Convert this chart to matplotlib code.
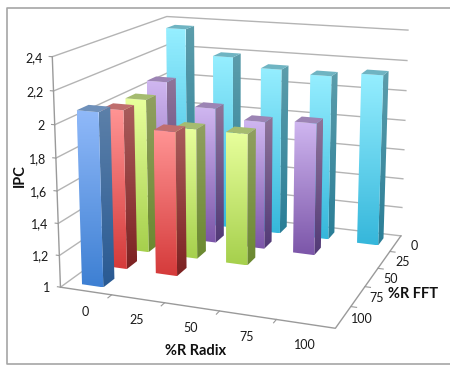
import numpy as np
import matplotlib
matplotlib.use("Agg")
import matplotlib.pyplot as plt
from matplotlib.colors import LinearSegmentedColormap
from matplotlib.patches import Polygon

plt.rcParams["font.family"] = ["Lato", "DejaVu Sans"]

radix_labels = ["0", "25", "50", "75", "100"]
fft_labels = ["0", "25", "50", "75", "100"]
ipc_labels = ["1", "1,2", "1,4", "1,6", "1,8", "2", "2,2", "2,4"]
ipc_ticks = [1.0, 1.2, 1.4, 1.6, 1.8, 2.0, 2.2, 2.4]

# one list per %R FFT row, indexed by %R Radix
ipc_fft0 = [2.36, 2.19, 2.13, 2.11, 2.14]
ipc_fft25 = [2.06, 1.91, 1.85, 1.87]
ipc_fft50 = [2.01, 1.85, 1.85]
ipc_fft75 = [2.015, 1.91]
ipc_fft100 = [2.075]
rows = [ipc_fft0, ipc_fft25, ipc_fft50, ipc_fft75, ipc_fft100]

# (front top, front bottom, side top, side bottom, cap)
palette = [
    ("#95EEFF", "#36B7DB", "#5C9DAB", "#2A7E97", "#6FB4C2"),
    ("#CFB6F0", "#7C56A9", "#8F7499", "#523A77", "#9C84B4"),
    ("#E8FF9C", "#A6D04D", "#909F60", "#6B8930", "#A5BB70"),
    ("#FF9494", "#D53B3B", "#A95C5C", "#7D2222", "#BF6E6E"),
    ("#90B9F9", "#3E80D3", "#5C80A9", "#295A93", "#6E90BA"),
]

# pixel positions of the chart box corners, used to fit the camera
calib_world = [(0, 1, 1.0), (1, 1, 1.0), (1, 0, 1.0), (0, 0, 1.0),
               (0, 1, 2.4), (1, 0, 2.4), (0, 0, 2.4)]
calib_pixel = [(62, 290), (334, 327), (402, 237), (168, 206),
               (52, 55), (408, 30), (167, 18)]


def fit_camera(world, pixel):
    rows_a, rows_b = [], []
    for (x, y, z), (u, v) in zip(world, pixel):
        rows_a.append([x, y, z, 1, 0, 0, 0, 0, -u * x, -u * y, -u * z])
        rows_a.append([0, 0, 0, 0, x, y, z, 1, -v * x, -v * y, -v * z])
        rows_b += [u, v]
    sol = np.linalg.lstsq(np.array(rows_a, float), np.array(rows_b, float), rcond=None)[0]
    return np.append(sol, 1.0).reshape(3, 4)


camera = fit_camera(calib_world, calib_pixel)


def project(x, y, z):
    u, v, w = camera @ np.array([x, y, z, 1.0])
    return u / w, v / w


def grad_poly(ax, pts, top, bottom):
    pts = np.array(pts)
    cmap = LinearSegmentedColormap.from_list("g", [top, bottom])
    grad = np.linspace(0, 1, 64).reshape(-1, 1)
    ext = (pts[:, 0].min(), pts[:, 0].max(), pts[:, 1].max(), pts[:, 1].min())
    im = ax.imshow(grad, cmap=cmap, extent=ext, aspect="auto", zorder=3)
    im.set_clip_path(Polygon(pts, transform=ax.transData))


def draw_bar(ax, i, j, value, cols, bw=0.42, bd=0.46):
    cx = (i + 0.5) / 5
    cy = (j + 0.5) / 5
    x0, x1 = cx - bw / 10, cx + bw / 10
    y0, y1 = cy - bd / 10, cy + bd / 10
    zb = 1.0
    front = [project(x0, y1, value), project(x1, y1, value), project(x1, y1, zb), project(x0, y1, zb)]
    side = [project(x1, y1, value), project(x1, y0, value), project(x1, y0, zb), project(x1, y1, zb)]
    cap = [project(x0, y1, value), project(x0, y0, value), project(x1, y0, value), project(x1, y1, value)]
    grad_poly(ax, side, cols[2], cols[3])
    grad_poly(ax, front, cols[0], cols[1])
    ax.add_patch(Polygon(cap, closed=True, fc=cols[4], ec="none", zorder=3))


fig = plt.figure(figsize=(4.5, 3.65), dpi=100)
ax = fig.add_axes([0, 0, 1, 1])

grid_c = "#B4B4B4"
axis_c = "#9A9A9A"
for z in ipc_ticks:
    a, b, c = project(0, 1, z), project(0, 0, z), project(1, 0, z)
    ax.plot([a[0], b[0], c[0]], [a[1], b[1], c[1]], color=grid_c, lw=1.0, zorder=1)
    t = project(-0.012, 1, z)
    ax.plot([a[0], t[0]], [a[1], t[1]], color=axis_c, lw=0.8, zorder=1)

a, b, c, d = project(0, 1, 1), project(1, 1, 1), project(1, 0, 1), project(0, 1, 2.4)
ax.plot([d[0], a[0], b[0], c[0]], [d[1], a[1], b[1], c[1]], color=axis_c, lw=1.0, zorder=2)
for k in range(1, 5):
    p = project(k / 5, 1, 1)
    q = project(k / 5, 1.03, 1)
    ax.plot([p[0], q[0]], [p[1], q[1]], color=axis_c, lw=0.8, zorder=2)
    p = project(1, k / 5, 1)
    q = project(1.02, k / 5, 1)
    ax.plot([p[0], q[0]], [p[1], q[1]], color=axis_c, lw=0.8, zorder=2)

# painter's order: back row first, left to right
for j, row in enumerate(rows):
    for i, value in enumerate(row):
        draw_bar(ax, i, j, value, palette[j])

# outer chart frame runs off the right edge of the image
ax.plot([451, 6.5, 6.5, 451], [7.5, 7.5, 364, 364], color="#A6A6A6", lw=1.2, zorder=5)

txt = dict(fontsize=9, color="#1A1A1A", zorder=6)
for z, lab in zip(ipc_ticks, ipc_labels):
    u, v = project(0, 1, z)
    ax.text(u - 10, v + 1, lab, ha="right", va="center", **txt)
for i, lab in enumerate(radix_labels):
    u, v = project((i + 0.5) / 5, 1, 1)
    ax.text(u - 1, v + 21.5, lab, ha="center", va="center", **txt)
for j, lab in enumerate(fft_labels):
    u, v = project(1, (j + 0.5) / 5, 1)
    ax.text(u + 19, v + 2, lab, ha="center", va="center", **txt)

bold = dict(fontsize=10.5, fontweight="bold", color="#111111", zorder=6)
ax.text(20, 176, "IPC", rotation=90, ha="center", va="center", **bold)
ax.text(196, 351, "%R Radix", ha="center", va="center", **bold)
ax.text(413, 294, "%R FFT", ha="center", va="center", **bold)

ax.set_xlim(0, 450)
ax.set_ylim(365, 0)
ax.axis("off")
fig.savefig("out.png", dpi=100)
